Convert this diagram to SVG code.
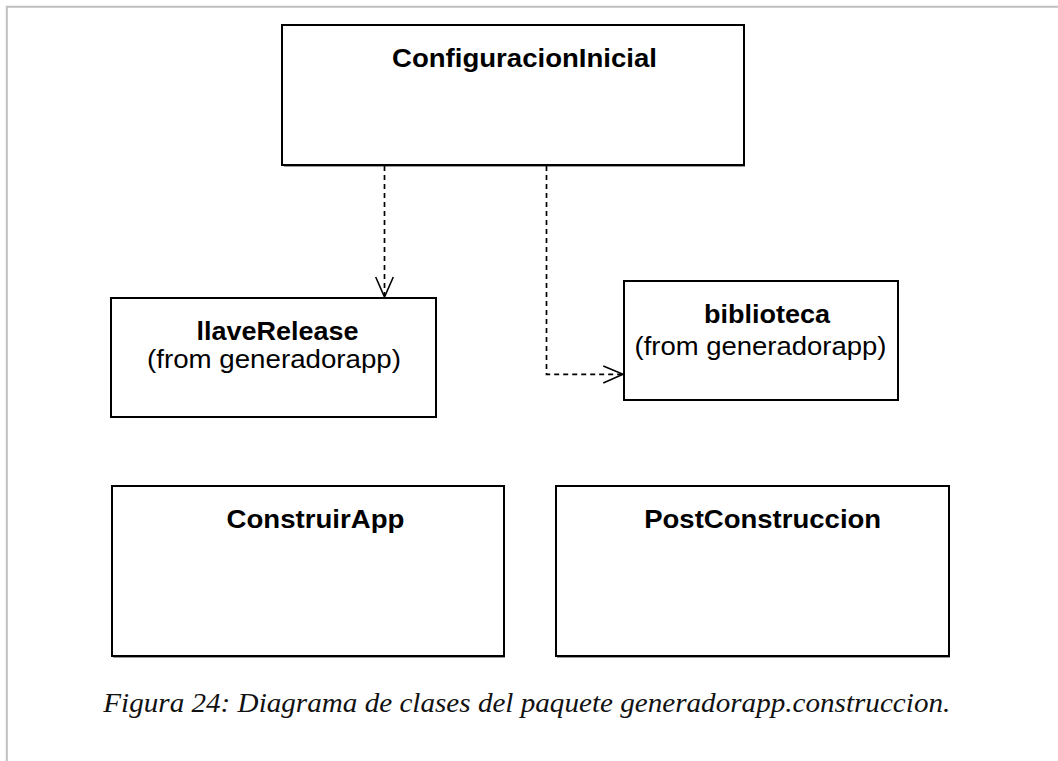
<svg xmlns="http://www.w3.org/2000/svg" width="1058" height="761" viewBox="0 0 1058 761">
  <style>
    .box { fill: #ffffff; stroke: #000000; stroke-width: 2; }
    .shade { stroke: #9a9a9a; stroke-width: 1; }
    .name { font-family: "Liberation Sans", Arial, sans-serif; font-weight: bold; font-size: 25px; fill: #000000; text-anchor: middle; }
    .from { font-family: "Liberation Sans", Arial, sans-serif; font-size: 25px; fill: #000000; text-anchor: middle; }
    .dep { fill: none; stroke: #000000; stroke-width: 1.7; stroke-dasharray: 5 4; }
    .head { fill: none; stroke: #000000; stroke-width: 1.6; }
    .caption { font-family: "Liberation Serif", "Times New Roman", serif; font-style: italic; font-size: 28px; fill: #111111; }
  </style>

  <rect width="1058" height="761" fill="#ffffff"/>
  <!-- page frame -->
  <path d="M6.8,761 V6.8 H1058" fill="none" stroke="#c0c0c0" stroke-width="2"/>

  <g id="ConfiguracionInicial">
    <rect class="box" x="282" y="25" width="462" height="140"/>
    <line class="shade" x1="284" y1="166.5" x2="745" y2="166.5"/>
    <text class="name" x="524.5" y="67" textLength="265" lengthAdjust="spacingAndGlyphs">ConfiguracionInicial</text>
  </g>

  <g id="llaveRelease">
    <rect class="box" x="111" y="298" width="325" height="119"/>
    <text class="name" x="277.5" y="339.5" textLength="162" lengthAdjust="spacingAndGlyphs">llaveRelease</text>
    <text class="from" x="274" y="367.5" textLength="254" lengthAdjust="spacingAndGlyphs">(from generadorapp)</text>
  </g>

  <g id="biblioteca">
    <rect class="box" x="624" y="281" width="274" height="119"/>
    <text class="name" x="767" y="322.5" textLength="126" lengthAdjust="spacingAndGlyphs">biblioteca</text>
    <text class="from" x="760.5" y="354.5" textLength="252" lengthAdjust="spacingAndGlyphs">(from generadorapp)</text>
  </g>

  <g id="ConstruirApp">
    <rect class="box" x="112" y="486" width="392" height="170"/>
    <line class="shade" x1="113" y1="657.5" x2="505" y2="657.5"/>
    <text class="name" x="315.5" y="527.5" textLength="178" lengthAdjust="spacingAndGlyphs">ConstruirApp</text>
  </g>

  <g id="PostConstruccion">
    <rect class="box" x="556" y="486" width="393" height="170"/>
    <line class="shade" x1="557" y1="657.5" x2="950" y2="657.5"/>
    <text class="name" x="762.7" y="527.5" textLength="237" lengthAdjust="spacingAndGlyphs">PostConstruccion</text>
  </g>

  <g id="connectors">
    <!-- ConfiguracionInicial to llaveRelease -->
    <path class="dep" d="M384.5,166 V296"/>
    <path class="head" d="M375.7,277 L384.5,297 L393.3,277"/>
    <!-- ConfiguracionInicial to biblioteca -->
    <path class="dep" d="M546.5,166 V374.3 H622"/>
    <path class="head" d="M603.3,366 L623,374.3 L603.3,383"/>
  </g>

  <text id="caption" class="caption" x="103.3" y="711.5" textLength="847" lengthAdjust="spacingAndGlyphs">Figura 24: Diagrama de clases del paquete generadorapp.construccion.</text>
</svg>
